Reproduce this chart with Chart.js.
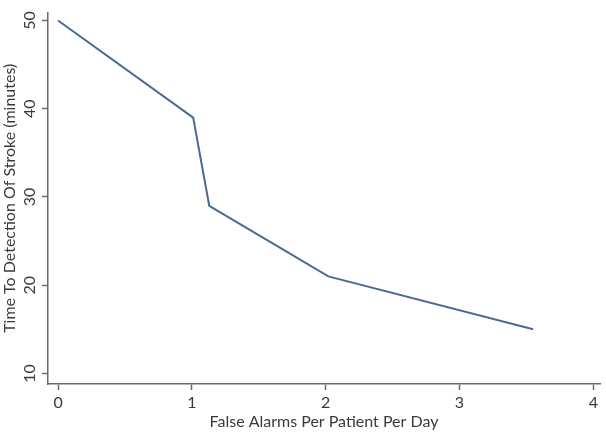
<!DOCTYPE html>
<html>
<head>
<meta charset="utf-8">
<script src="https://cdn.jsdelivr.net/npm/chart.js@4/dist/chart.umd.min.js"></script>
<style>
  body { margin: 0; background: #fff; }
  #wrap { width: 606px; height: 433px; }
</style>
</head>
<body>
<div id="wrap"><canvas id="chart" width="606" height="433"></canvas></div>
<script>
// データ
const falseAlarms = [0, 1.01, 1.13, 2.02, 3.55];
const detectionTime = [50, 39, 29, 21, 15];
const xTicks = [0, 1, 2, 3, 4];
const yTicks = [10, 20, 30, 40, 50];

const axisColor = '#6b6b6b';
const textColor = '#3a3a3a';
const fontFamily = 'Lato, "Open Sans", sans-serif';

const points = falseAlarms.map((x, i) => ({ x: x, y: detectionTime[i] }));

new Chart(document.getElementById('chart').getContext('2d'), {
    type: 'line',
    data: {
        datasets: [{
            data: points,
            borderColor: '#4a6a96',
            borderWidth: 2,
            pointRadius: 0,
            tension: 0,
            fill: false
        }]
    },
    options: {
        responsive: false,
        animation: false,
        layout: { padding: { top: 3, right: 6, left: 0, bottom: 0 } },
        plugins: { legend: { display: false }, tooltip: { enabled: false } },
        scales: {
            x: {
                type: 'linear',
                min: -0.075,
                max: 4.05,
                afterBuildTicks: s => { s.ticks = xTicks.map(v => ({ value: v })); },
                afterFit: s => { s.height = 49; },
                grid: { drawOnChartArea: false, drawTicks: true, tickLength: 6, tickColor: axisColor, tickWidth: 1.5 },
                border: { display: true, color: axisColor, width: 1.5 },
                ticks: { color: textColor, font: { size: 16, family: fontFamily }, padding: 3, maxRotation: 0 },
                title: { display: true, text: 'False Alarms Per Patient Per Day', color: textColor, font: { size: 16, family: fontFamily }, padding: { top: 0, bottom: 2 } }
            },
            y: {
                type: 'linear',
                min: 8.8,
                max: 50.9,
                afterBuildTicks: s => { s.ticks = yTicks.map(v => ({ value: v })); },
                afterFit: s => { s.width = 48; },
                grid: { drawOnChartArea: false, drawTicks: true, tickLength: 6, tickColor: axisColor, tickWidth: 1.5 },
                border: { display: true, color: axisColor, width: 1.5 },
                ticks: { color: textColor, font: { size: 16, family: fontFamily }, padding: 3, minRotation: 90, maxRotation: 90, crossAlign: 'center' },
                title: { display: true, text: 'Time To Detection Of Stroke (minutes)', color: textColor, font: { size: 16, family: fontFamily }, padding: { top: 0, bottom: 2 } }
            }
        }
    }
});
</script>
</body>
</html>
